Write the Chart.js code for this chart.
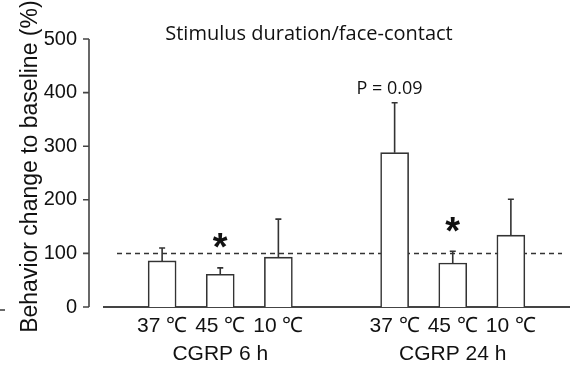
<!DOCTYPE html>
<html>
<head>
<meta charset="utf-8">
<script src="https://cdn.jsdelivr.net/npm/chart.js@4"></script>
<style>
  html, body { margin: 0; padding: 0; background: #fff; }
  #wrap { width: 574px; height: 367px; }
</style>
</head>
<body>
<div id="wrap"><canvas id="chart"></canvas></div>
<script>
// empty slots ('') give the gaps at both ends and between the two groups
const tempLabels = ['', '37 \u2103', '45 \u2103', '10 \u2103', '', '37 \u2103', '45 \u2103', '10 \u2103', ''];
const groupLabels = ['', '', 'CGRP 6 h', '', '', '', 'CGRP 24 h', '', ''];
const means  = [null, 86, 61, 93, null, 288, 82, 134, null];
const errors = [null, 24, 12, 71, null, 93, 22, 67, null];
const marks  = ['', '', '*', '', '', 'P = 0.09', '*', '', ''];
const yTicks = [0, 100, 200, 300, 400, 500];
const baseline = 100;

const ink = '#333';

const extras = {
  id: 'extras',
  beforeDatasetsDraw(c) {
    const { ctx, chartArea, scales } = c;
    const y = scales.y.getPixelForValue(baseline);
    ctx.save();
    ctx.strokeStyle = ink;
    ctx.lineWidth = 1.5;
    ctx.setLineDash([5, 4]);
    ctx.beginPath();
    ctx.moveTo(chartArea.left + 13, y);
    ctx.lineTo(chartArea.right - 7, y);
    ctx.stroke();
    ctx.restore();
  },
  afterDatasetsDraw(c) {
    const { ctx, chartArea, scales } = c;
    const x = scales.x, y = scales.y;
    ctx.save();
    ctx.strokeStyle = ink;
    ctx.lineWidth = 1.6;

    // error bars (upper only)
    means.forEach((m, i) => {
      if (m == null) return;
      const px = x.getPixelForValue(i);
      const top = y.getPixelForValue(m + errors[i]);
      ctx.beginPath();
      ctx.moveTo(px, y.getPixelForValue(m));
      ctx.lineTo(px, top);
      ctx.moveTo(px - 3, top);
      ctx.lineTo(px + 3, top);
      ctx.stroke();

      ctx.fillStyle = '#111';
      ctx.textAlign = 'center';
      ctx.textBaseline = 'middle';
      if (marks[i] === '*') {
        ctx.font = 'bold 38px "Liberation Sans"';
        ctx.fillText('*', px, top - 18);
      } else if (marks[i]) {
        ctx.font = '18px "Open Sans"';
        ctx.fillText(marks[i], px - 5, top - 14);
      }
    });

    // y axis sits a little left of the x baseline
    const ax = chartArea.left - 15;
    ctx.strokeStyle = '#444';
    ctx.beginPath();
    ctx.moveTo(ax, y.getPixelForValue(0));
    ctx.lineTo(ax, y.getPixelForValue(500));
    yTicks.forEach(t => {
      const ty = y.getPixelForValue(t);
      ctx.moveTo(ax - 6, ty);
      ctx.lineTo(ax, ty);
    });
    ctx.stroke();

    // stray mark at the far left edge
    ctx.beginPath();
    ctx.moveTo(0, y.getPixelForValue(0) + 3);
    ctx.lineTo(5, y.getPixelForValue(0) + 3);
    ctx.stroke();

    // plot title
    ctx.fillStyle = '#111';
    ctx.font = '20px "Open Sans"';
    ctx.textAlign = 'center';
    ctx.textBaseline = 'middle';
    ctx.fillText('Stimulus duration/face-contact', chartArea.left + 205, y.getPixelForValue(500) - 5);
    ctx.restore();
  }
};

new Chart(document.getElementById('chart'), {
  type: 'bar',
  data: {
    labels: tempLabels.map((t, i) => [t, groupLabels[i]]),
    datasets: [{
      data: means,
      backgroundColor: '#fff',
      borderColor: ink,
      borderWidth: 1.6,
      barThickness: 28
    }]
  },
  options: {
    responsive: true,
    maintainAspectRatio: false,
    animation: false,
    layout: { padding: { top: 34, right: 4, left: 0, bottom: 0 } },
    plugins: {
      legend: { display: false },
      tooltip: { enabled: false }
    },
    scales: {
      x: {
        offset: false,
        grid: { display: false, drawTicks: false },
        border: { display: true, color: '#444', width: 2 },
        ticks: {
          autoSkip: false,
          maxRotation: 0,
          padding: 5,
          color: '#111',
          font: { family: '"Liberation Sans", Arial', size: 21, lineHeight: 1.33 }
        },
        afterFit(s) { s.height = 60; }
      },
      y: {
        min: 0,
        max: 500,
        afterBuildTicks(s) { s.ticks = yTicks.map(v => ({ value: v })); },
        grid: { display: false, drawTicks: false },
        border: { display: false },
        ticks: {
          padding: 27,
          color: '#111',
          font: { family: '"Liberation Sans", Arial', size: 20 }
        },
        title: {
          display: true,
          // leading spaces nudge the centred title up a little
          text: '  Behavior change to baseline (%)',
          color: '#111',
          padding: { top: 17, bottom: 0 },
          font: { family: '"Liberation Sans", Arial', size: 23 }
        },
        afterFit(s) { s.width = 104; }
      }
    }
  },
  plugins: [extras]
});
</script>
</body>
</html>
